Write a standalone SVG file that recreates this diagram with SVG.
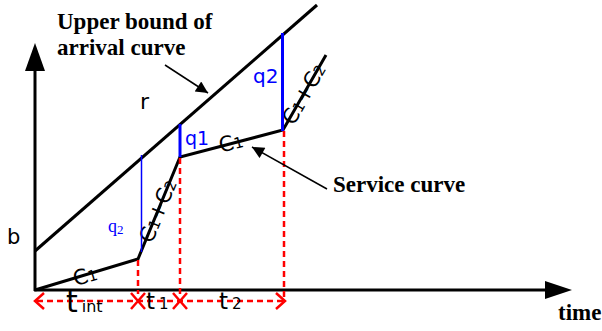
<svg xmlns="http://www.w3.org/2000/svg" width="602" height="331" viewBox="0 0 602 331">
<style>
.blk{stroke:#000;stroke-width:3;fill:none;stroke-linejoin:miter}
.blu{stroke:#0000ff;stroke-width:3;fill:none}
.red{stroke:#ff0000;stroke-width:2.5;fill:none;stroke-dasharray:6 4}
.redx{stroke:#ff0000;stroke-width:2.5;fill:none}
.ann{stroke:#000;stroke-width:1.5;fill:none}
.lbl{font-family:"Liberation Serif","Times New Roman",serif;font-weight:bold;font-size:23px;fill:#000}
.sans{font-family:"DejaVu Sans",Verdana,sans-serif;fill:#000}
.bsans{font-family:"DejaVu Sans",Verdana,sans-serif;fill:#0000ff}
</style>
<defs>
<marker id="ah2" viewBox="0 0 10 10" refX="10" refY="5" markerWidth="14" markerHeight="12" markerUnits="userSpaceOnUse" orient="auto">
<path d="M0,0 L10,5 L0,10 Z" fill="#000"/>
</marker>
</defs>
<g id="axes">
<line class="blk" x1="35" y1="291" x2="35" y2="68"/>
<polygon points="35,43 25,71 45,71" fill="#000"/>
<line class="blk" x1="34" y1="290" x2="548" y2="290"/>
<polygon points="572,290 545,281 545,299" fill="#000"/>
<text class="lbl" x="558" y="320">time</text>
<text class="sans" x="7" y="244" font-size="21">b</text>
</g>
<g id="arrival-curve">
<line class="blk" x1="35" y1="251" x2="317" y2="5"/>
<text class="sans" x="140" y="109" font-size="22">r</text>
<text class="lbl" x="57" y="29">Upper bound of</text>
<text class="lbl" x="57" y="55">arrival curve</text>
</g>
<g id="service-curve">
<polyline class="blk" points="35,290 138,259 180,157 283,130 326,55"/>
<text class="lbl" x="333" y="192">Service curve</text>
<text class="sans" font-size="21" text-anchor="middle" transform="translate(85,276) rotate(-16.7)" y="7">C<tspan font-size="15">1</tspan></text>
<text class="sans" font-size="21" text-anchor="middle" transform="translate(231,143) rotate(-14.7)" y="7">C<tspan font-size="15">1</tspan></text>
<text class="sans" font-size="21" text-anchor="middle" transform="translate(158,211) rotate(-67.6)" y="7">C<tspan font-size="15">1</tspan>+C<tspan font-size="15">2</tspan></text>
<text class="sans" font-size="21" text-anchor="middle" transform="translate(304,94) rotate(-60.2)" y="7">C<tspan font-size="15">1</tspan>+C<tspan font-size="15">2</tspan></text>
</g>
<g id="backlog">
<line stroke="#0000ff" stroke-width="1.5" x1="141.5" y1="155" x2="141.5" y2="252"/>
<line class="blu" x1="180" y1="124" x2="180" y2="157"/>
<line class="blu" x1="282.5" y1="33" x2="282.5" y2="131"/>
<text class="bsans" x="185" y="145" font-size="19">q1</text>
<text class="bsans" x="253" y="83" font-size="20">q2</text>
<text x="108" y="232" font-family="'Liberation Serif','Times New Roman',serif" font-size="18" fill="#0000ff">q<tspan font-size="13" dy="2">2</tspan></text>
</g>
<g id="intervals">
<line class="red" x1="138" y1="260" x2="138" y2="294"/>
<line class="red" x1="180" y1="158" x2="180" y2="294"/>
<line class="red" x1="284" y1="131" x2="284" y2="301"/>
<line class="red" x1="37" y1="301" x2="283" y2="301"/>
<polyline class="redx" points="44,293 35,301 44,309"/>
<polyline class="redx" points="276,293 285,301 276,309"/>
<path class="redx" d="M131,293 L145,309 M131,309 L145,293 M173,293 L187,309 M173,309 L187,293"/>
<text class="sans" x="66" y="312" font-size="30">t<tspan font-size="16" dx="4">int</tspan></text>
<text class="sans" x="146" y="309" font-size="23">t<tspan font-size="15" dx="4">1</tspan></text>
<text class="sans" x="219" y="309" font-size="23">t<tspan font-size="15" dx="4">2</tspan></text>
</g>
<g id="connectors">
<line class="ann" x1="165" y1="65" x2="208" y2="93" marker-end="url(#ah2)"/>
<line class="ann" x1="327" y1="189" x2="252" y2="147" marker-end="url(#ah2)"/>
</g>
</svg>
